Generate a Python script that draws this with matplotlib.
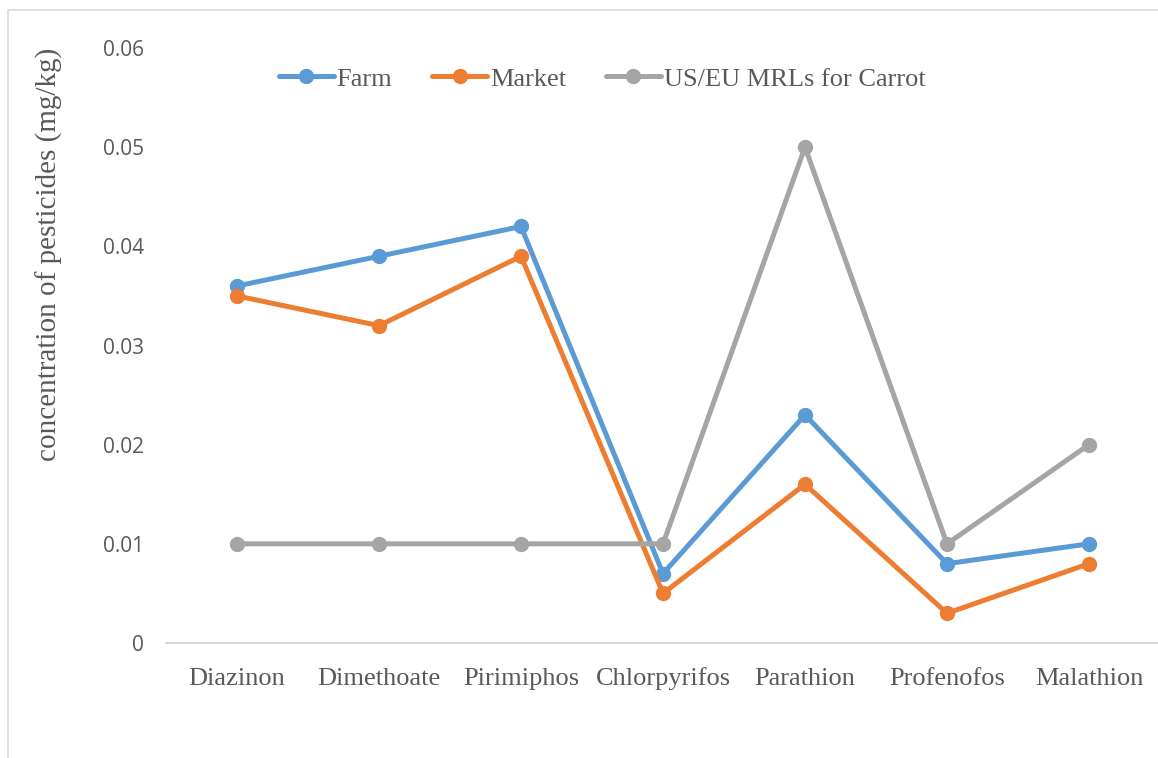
import matplotlib.pyplot as plt
from matplotlib.patches import Rectangle

# data
pesticides = ['Diazinon', 'Dimethoate', 'Pirimiphos', 'Chlorpyrifos',
              'Parathion', 'Profenofos', 'Malathion']
farm = [0.036, 0.039, 0.042, 0.007, 0.023, 0.008, 0.010]
market = [0.035, 0.032, 0.039, 0.005, 0.016, 0.003, 0.008]
mrl = [0.010, 0.010, 0.010, 0.010, 0.050, 0.010, 0.020]
yticks = [0, 0.01, 0.02, 0.03, 0.04, 0.05, 0.06]
ytick_labels = ['0', '0.01', '0.02', '0.03', '0.04', '0.05', '0.06']

text_col = '#595959'
serif = ['Liberation Serif', 'DejaVu Serif']

fig = plt.figure(figsize=(11.58, 7.58), dpi=100)
W, H = 1158, 758

# outer chart border (cut off at right and bottom in the original)
fig.patches.append(Rectangle((8 / W, -0.1), 1.2, 1 - 10 / H + 0.1,
                             transform=fig.transFigure, fill=False,
                             edgecolor='#D9D9D9', linewidth=1.2))

ax = fig.add_axes([166 / W, 1 - 643 / H, (1160 - 166) / W, (643 - 48) / H])

x = range(len(pesticides))
series = [(farm, 'Farm', '#5B9BD5'),
          (market, 'Market', '#ED7D31'),
          (mrl, 'US/EU MRLs for Carrot', '#A5A5A5')]
for vals, name, col in series:
    ax.plot(x, vals, color=col, linewidth=3.6, marker='o', markersize=10,
            label=name, solid_capstyle='round', clip_on=False)

ax.set_xlim(-0.5, len(pesticides) - 0.5)
ax.set_ylim(0, 0.06)
ax.set_yticks(yticks)
ax.set_yticklabels(ytick_labels, fontsize=15, color=text_col, family='Open Sans')
ax.set_xticks(list(x))
ax.set_xticklabels(pesticides, fontsize=19, color=text_col, family=serif)
for lab in ax.get_xticklabels():
    lab.set_verticalalignment('baseline')
ax.tick_params(axis='both', length=0)
ax.tick_params(axis='y', pad=16)
ax.tick_params(axis='x', pad=30)

for s in ['top', 'right', 'left']:
    ax.spines[s].set_visible(False)
ax.spines['bottom'].set_color('#D9D9D9')
ax.spines['bottom'].set_linewidth(1.5)

fig.text(49 / W, 1 - 254 / H, 'concentration of pesticides (mg/kg)',
         rotation=90, ha='center', va='center', fontsize=21,
         color=text_col, family=serif)

fig.legend(loc='center', bbox_to_anchor=(602 / W, 1 - 79 / H), ncol=3,
           frameon=False, prop={'family': serif, 'size': 19},
           labelcolor=text_col, handlelength=2.1, handletextpad=0.1,
           columnspacing=1.5)

fig.savefig('out.png', dpi=100)
